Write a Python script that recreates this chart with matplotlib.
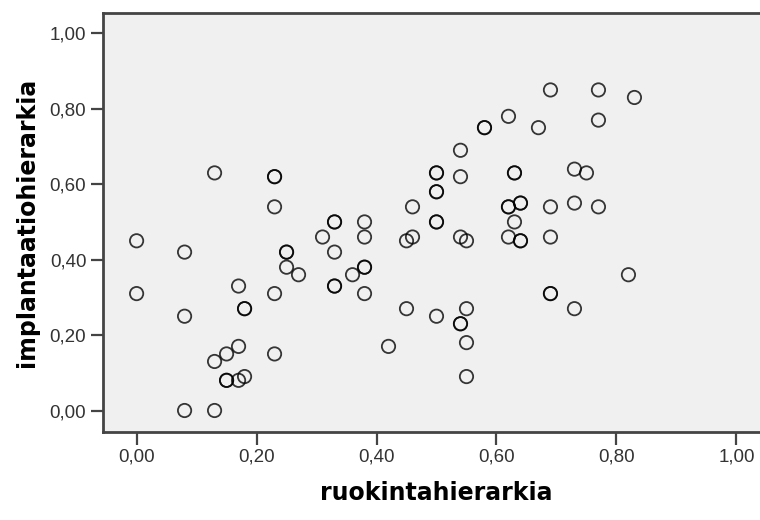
import matplotlib
matplotlib.use("Agg")
import matplotlib.pyplot as plt

# ruokintahierarkia (x) vs implantaatiohierarkia (y); repeated pairs are overlapping cases
ruokinta = [0.00, 0.00,
            0.08, 0.08, 0.08,
            0.13, 0.13, 0.13,
            0.15, 0.15, 0.15,
            0.17, 0.17, 0.17,
            0.18, 0.18, 0.18,
            0.23, 0.23, 0.23, 0.23, 0.23,
            0.25, 0.25, 0.25,
            0.27, 0.31,
            0.33, 0.33, 0.33, 0.33, 0.33,
            0.36,
            0.38, 0.38, 0.38, 0.38, 0.38,
            0.42,
            0.45, 0.45,
            0.46, 0.46,
            0.50, 0.50, 0.50, 0.50, 0.50, 0.50, 0.50,
            0.54, 0.54, 0.54, 0.54, 0.54,
            0.55, 0.55, 0.55, 0.55,
            0.58, 0.58,
            0.62, 0.62, 0.62, 0.62,
            0.63, 0.63, 0.63,
            0.64, 0.64, 0.64, 0.64,
            0.67,
            0.69, 0.69, 0.69, 0.69, 0.69,
            0.73, 0.73, 0.73,
            0.75,
            0.77, 0.77, 0.77,
            0.82, 0.83]
implantaatio = [0.45, 0.31,
                0.42, 0.25, 0.00,
                0.63, 0.13, 0.00,
                0.15, 0.08, 0.08,
                0.33, 0.17, 0.08,
                0.27, 0.27, 0.09,
                0.62, 0.62, 0.54, 0.31, 0.15,
                0.42, 0.42, 0.38,
                0.36, 0.46,
                0.50, 0.50, 0.42, 0.33, 0.33,
                0.36,
                0.50, 0.46, 0.38, 0.38, 0.31,
                0.17,
                0.45, 0.27,
                0.54, 0.46,
                0.63, 0.63, 0.58, 0.58, 0.50, 0.50, 0.25,
                0.69, 0.62, 0.46, 0.23, 0.23,
                0.45, 0.27, 0.18, 0.09,
                0.75, 0.75,
                0.78, 0.54, 0.54, 0.46,
                0.63, 0.63, 0.50,
                0.55, 0.55, 0.45, 0.45,
                0.75,
                0.85, 0.54, 0.46, 0.31, 0.31,
                0.64, 0.55, 0.27,
                0.63,
                0.85, 0.77, 0.54,
                0.36, 0.83]

ticks = [0.0, 0.2, 0.4, 0.6, 0.8, 1.0]
tick_labels = ["0,00", "0,20", "0,40", "0,60", "0,80", "1,00"]

fig = plt.figure(figsize=(7.6, 5.2), dpi=100)
ax = fig.add_axes([103 / 760, 1 - 432 / 520, 667 / 760, 419 / 520])
ax.set_facecolor("#f0f0f0")

ax.scatter(ruokinta, implantaatio, s=92, facecolors="none",
           edgecolors="black", linewidths=1.3, alpha=0.78, zorder=3)

ax.set_xlim(-0.056, 1.056)
ax.set_ylim(-0.057, 1.054)
ax.set_xticks(ticks)
ax.set_xticklabels(tick_labels)
ax.set_yticks(ticks)
ax.set_yticklabels(tick_labels)

for side in ax.spines.values():
    side.set_color("#444444")
    side.set_linewidth(2.0)

ax.tick_params(axis="both", direction="out", length=9, width=1.6,
               color="#444444", labelsize=13.5, labelcolor="#333333", pad=3)
for lab in ax.get_xticklabels() + ax.get_yticklabels():
    lab.set_family("Liberation Sans")

ax.set_xlabel("ruokintahierarkia", fontsize=17, fontweight="bold",
              family="DejaVu Sans", labelpad=11)
ax.set_ylabel("implantaatiohierarkia", fontsize=17, fontweight="bold",
              family="DejaVu Sans", labelpad=8)

fig.savefig("out.png", dpi=100)
